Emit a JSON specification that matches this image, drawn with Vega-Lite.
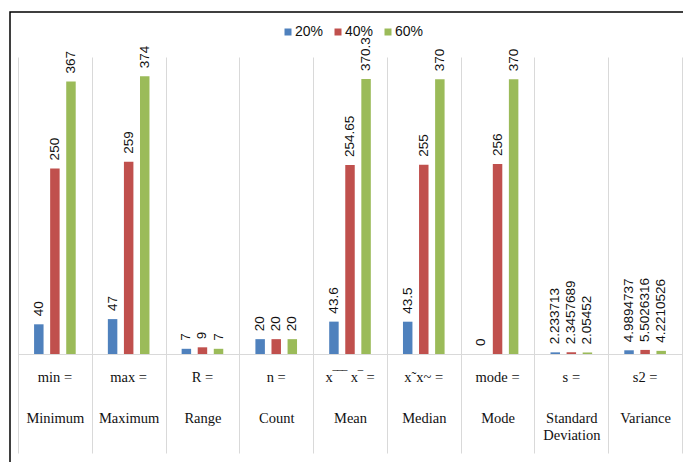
{
  "$schema": "https://vega.github.io/schema/vega-lite/v6.json",
  "autosize": {"type": "none"},
  "padding": {"left": 10, "top": 12, "right": 0, "bottom": 0},
  "width": 680,
  "height": 460,
  "background": "white",
  "config": {
    "view": {"stroke": "#000000", "strokeWidth": 1.5},
    "axis": {"grid": false, "domainColor": "#d9d9d9", "tickColor": "#d9d9d9"}
  },
  "data": {
    "values": [
      {"stat": "Minimum", "pct": "20%", "value": 40},
      {"stat": "Minimum", "pct": "40%", "value": 250},
      {"stat": "Minimum", "pct": "60%", "value": 367},
      {"stat": "Maximum", "pct": "20%", "value": 47},
      {"stat": "Maximum", "pct": "40%", "value": 259},
      {"stat": "Maximum", "pct": "60%", "value": 374},
      {"stat": "Range", "pct": "20%", "value": 7},
      {"stat": "Range", "pct": "40%", "value": 9},
      {"stat": "Range", "pct": "60%", "value": 7},
      {"stat": "Count", "pct": "20%", "value": 20},
      {"stat": "Count", "pct": "40%", "value": 20},
      {"stat": "Count", "pct": "60%", "value": 20},
      {"stat": "Mean", "pct": "20%", "value": 43.6},
      {"stat": "Mean", "pct": "40%", "value": 254.65},
      {"stat": "Mean", "pct": "60%", "value": 370.3},
      {"stat": "Median", "pct": "20%", "value": 43.5},
      {"stat": "Median", "pct": "40%", "value": 255},
      {"stat": "Median", "pct": "60%", "value": 370},
      {"stat": "Mode", "pct": "20%", "value": 0},
      {"stat": "Mode", "pct": "40%", "value": 256},
      {"stat": "Mode", "pct": "60%", "value": 370},
      {"stat": "Standard Deviation", "pct": "20%", "value": 2.233713},
      {"stat": "Standard Deviation", "pct": "40%", "value": 2.3457689},
      {"stat": "Standard Deviation", "pct": "60%", "value": 2.05452},
      {"stat": "Variance", "pct": "20%", "value": 4.9894737},
      {"stat": "Variance", "pct": "40%", "value": 5.5026316},
      {"stat": "Variance", "pct": "60%", "value": 4.2210526}
    ]
  },
  "encoding": {
    "xOffset": {
      "field": "pct",
      "type": "nominal",
      "sort": ["20%", "40%", "60%"],
      "scale": {"paddingInner": 0.41, "paddingOuter": 1.11}
    },
    "y": {
      "field": "value",
      "type": "quantitative",
      "axis": null,
      "scale": {"domain": [0, 400], "range": [342, 45], "nice": false}
    }
  },
  "layer": [
    {
      "mark": {"type": "bar"},
      "encoding": {
        "x": {
          "field": "stat",
          "type": "nominal",
          "sort": null,
          "scale": {"range": [8, 672], "paddingInner": 0, "paddingOuter": 0},
          "axis": {
            "orient": "top",
            "offset": -45,
            "domain": false,
            "ticks": true,
            "tickSize": -396,
            "tickBand": "extent",
            "tickColor": "#d9d9d9",
            "labels": true,
            "labelPadding": 42,
            "labelAngle": 0,
            "labelBaseline": "top",
            "labelFont": "Liberation Serif",
            "labelFontSize": 14.5,
            "labelLineHeight": 17.5,
            "labelColor": "#111111",
            "labelExpr": "datum.value == 'Standard Deviation' ? ['Standard', 'Deviation'] : datum.value",
            "title": null
          }
        },
        "color": {
          "field": "pct",
          "type": "nominal",
          "scale": {"domain": ["20%", "40%", "60%"], "range": ["#4F81BD", "#C0504D", "#9BBB59"]},
          "legend": {
            "orient": "none",
            "legendX": 271,
            "legendY": 13,
            "direction": "horizontal",
            "title": null,
            "symbolType": "square",
            "symbolSize": 49,
            "symbolStrokeWidth": 0,
            "labelFont": "Liberation Sans",
            "labelFontSize": 14,
            "labelColor": "#111111",
            "labelOffset": 0,
            "columnPadding": 7,
            "padding": 0
          }
        }
      }
    },
    {
      "mark": {
        "type": "text",
        "angle": 270,
        "align": "left",
        "baseline": "middle",
        "dx": 8,
        "font": "Liberation Sans",
        "fontSize": 13.5,
        "color": "#111111"
      },
      "encoding": {
        "x": {
          "field": "stat",
          "type": "nominal",
          "sort": null,
          "scale": {"range": [8, 672], "paddingInner": 0, "paddingOuter": 0},
          "axis": {
            "orient": "bottom",
            "offset": -118,
            "ticks": false,
            "domain": true,
            "domainColor": "#d9d9d9",
            "labelPadding": 16,
            "labelAngle": 0,
            "labelBaseline": "top",
            "labelFont": "Liberation Serif",
            "labelFontSize": 14.5,
            "labelColor": "#111111",
            "labelExpr": "{'Minimum': 'min =', 'Maximum': 'max =', 'Range': 'R =', 'Count': 'n =', 'Mean': 'x‾‾‾ x‾ =', 'Median': 'x˜x~ =', 'Mode': 'mode =', 'Standard Deviation': 's =', 'Variance': 's2 ='}[datum.value]",
            "title": null
          }
        },
        "text": {"field": "value", "type": "nominal"}
      }
    }
  ],
  "resolve": {"axis": {"x": "independent"}}
}
